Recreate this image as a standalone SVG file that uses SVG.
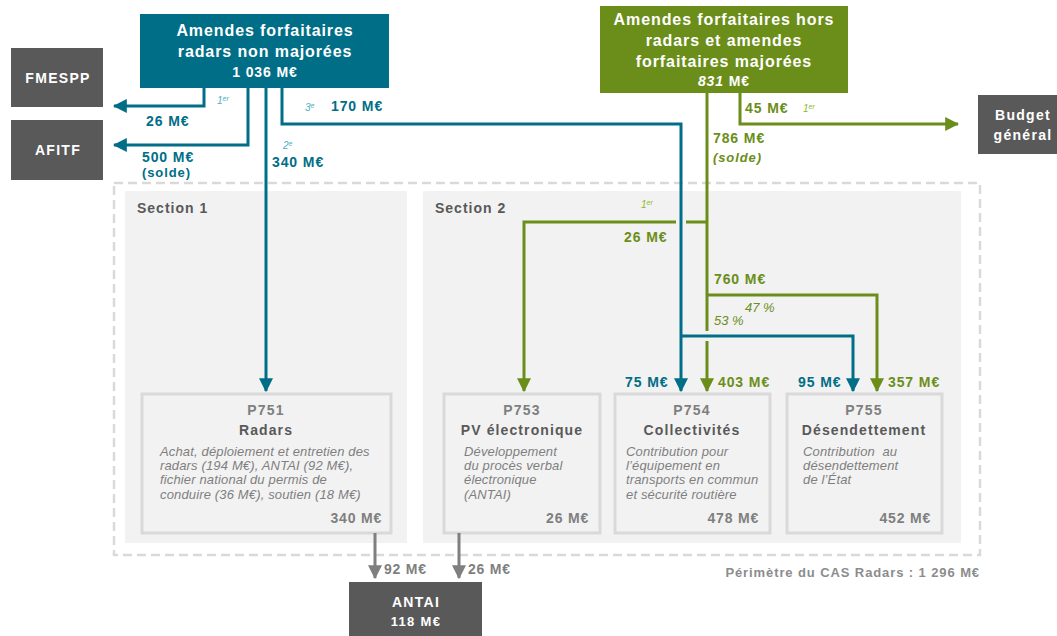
<svg xmlns="http://www.w3.org/2000/svg" width="1057" height="636" viewBox="0 0 1057 636">
<defs>
<style>
text{font-family:"Liberation Sans",Arial,sans-serif}
.hw{fill:#fff;font-weight:bold;font-size:16px;text-anchor:middle;letter-spacing:0.9px}
.gw{fill:#fff;font-weight:bold;font-size:14px;text-anchor:middle;letter-spacing:1.3px}
.lt{fill:#006e87;font-weight:bold;font-size:14px;letter-spacing:0.9px}
.lg{fill:#6b8e1a;font-weight:bold;font-size:14px;letter-spacing:0.9px}
.ot{fill:#4fb0c6;font-style:italic;font-size:10px}
.og{fill:#8dbb2c;font-style:italic;font-size:10px}
.pc{fill:#6b8e1a;font-style:italic;font-size:13px}
.sec{fill:#595959;font-weight:bold;font-size:14px;letter-spacing:1px}
.pn{fill:#7f7f7f;font-weight:bold;font-size:14px;text-anchor:middle;letter-spacing:1.2px}
.pt{fill:#595959;font-weight:bold;font-size:14px;text-anchor:middle;letter-spacing:1.1px}
.pd{fill:#7f7f7f;font-style:italic;font-size:13px;letter-spacing:0.15px}
.pa{fill:#7f7f7f;font-weight:bold;font-size:14px;text-anchor:end;letter-spacing:0.8px}
.ga{fill:#7f7f7f;font-weight:bold;font-size:14px;letter-spacing:0.8px}
.box{fill:#f2f2f2;stroke:#d9d9d9;stroke-width:3}
.panel{fill:#f2f2f2}
.ct{fill:none;stroke:#006e87;stroke-width:3}
.cg{fill:none;stroke:#6b8e1a;stroke-width:3}
.cy{fill:none;stroke:#7f7f7f;stroke-width:3}
</style>
<marker id="at" markerUnits="userSpaceOnUse" markerWidth="14" markerHeight="14" viewBox="0 0 12 12" refX="11" refY="6" orient="auto"><path d="M0,0 L12,6 L0,12 z" fill="#006e87"/></marker>
<marker id="ag" markerUnits="userSpaceOnUse" markerWidth="14" markerHeight="14" viewBox="0 0 12 12" refX="11" refY="6" orient="auto"><path d="M0,0 L12,6 L0,12 z" fill="#6b8e1a"/></marker>
<marker id="ay" markerUnits="userSpaceOnUse" markerWidth="14" markerHeight="14" viewBox="0 0 12 12" refX="11" refY="6" orient="auto"><path d="M0,0 L12,6 L0,12 z" fill="#7f7f7f"/></marker>
</defs>
<rect width="1057" height="636" fill="#fff"/>

<g id="perimeter">
<rect x="114" y="183" width="866" height="372" fill="none" stroke="#d9d9d9" stroke-width="2.5" stroke-dasharray="9,5"/>
<text x="980" y="577" style="fill:#8c8c8c;font-weight:bold;font-size:13px;text-anchor:end;letter-spacing:0.9px">Périmètre du CAS Radars : 1 296 M€</text>
</g>
<g id="section1">
<rect class="panel" x="125" y="191" width="282" height="352"/>
<text class="sec" x="137" y="213">Section 1</text>
</g>
<g id="section2">
<rect class="panel" x="423" y="191" width="538" height="352"/>
<text class="sec" x="435" y="213">Section 2</text>
</g>

<g id="src-radars">
<rect x="140" y="14" width="249" height="74" fill="#006e87"/>
<text class="hw" x="265" y="36">Amendes forfaitaires</text>
<text class="hw" x="265" y="57">radars non majorées</text>
<text class="hw" x="265" y="77" style="font-size:14px">1 036 M€</text>
</g>
<g id="src-hors">
<rect x="600" y="6" width="248" height="87" fill="#6b8e1a"/>
<text class="hw" x="724" y="25">Amendes forfaitaires hors</text>
<text class="hw" x="724" y="46">radars et amendes</text>
<text class="hw" x="724" y="67">forfaitaires majorées</text>
<text class="hw" x="724" y="86" style="font-size:14px"><tspan font-style="italic">831</tspan> M€</text>
</g>
<g id="fmespp">
<rect x="11" y="48" width="92" height="59" fill="#595959"/>
<text class="gw" x="58" y="83">FMESPP</text>
</g>
<g id="afitf">
<rect x="11" y="120" width="92" height="60" fill="#595959"/>
<text class="gw" x="58" y="155">AFITF</text>
</g>
<g id="budget">
<rect x="978" y="95" width="85" height="59" fill="#595959"/>
<text class="gw" x="1023" y="120">Budget</text>
<text class="gw" x="1023" y="140">général</text>
</g>
<g id="antai">
<rect x="349" y="582" width="133" height="60" fill="#595959"/>
<text class="gw" x="416" y="607">ANTAI</text>
<text class="gw" x="416" y="626" style="font-size:13px">118 M€</text>
</g>

<g id="p751">
<rect class="box" x="142" y="394" width="249" height="139"/>
<text class="pn" x="266" y="415">P751</text>
<text class="pt" x="266" y="435">Radars</text>
<text class="pd" x="160" y="456">Achat, déploiement et entretien des</text>
<text class="pd" x="160" y="470">radars (194 M€), ANTAI (92 M€),</text>
<text class="pd" x="160" y="484">fichier national du permis de</text>
<text class="pd" x="160" y="499">conduire (36 M€), soutien (18 M€)</text>
<text class="pa" x="382" y="523">340 M€</text>
</g>
<g id="p753">
<rect class="box" x="444" y="394" width="156" height="139"/>
<text class="pn" x="522" y="415">P753</text>
<text class="pt" x="522" y="435">PV électronique</text>
<text class="pd" x="464" y="456">Développement</text>
<text class="pd" x="464" y="470">du procès verbal</text>
<text class="pd" x="464" y="484">électronique</text>
<text class="pd" x="464" y="499">(ANTAI)</text>
<text class="pa" x="589" y="523">26 M€</text>
</g>
<g id="p754">
<rect class="box" x="615" y="394" width="155" height="139"/>
<text class="pn" x="692" y="415">P754</text>
<text class="pt" x="692" y="435">Collectivités</text>
<text class="pd" x="626" y="456">Contribution pour</text>
<text class="pd" x="626" y="470">l’équipement en</text>
<text class="pd" x="626" y="484">transports en commun</text>
<text class="pd" x="626" y="499">et sécurité routière</text>
<text class="pa" x="759" y="523">478 M€</text>
</g>
<g id="p755">
<rect class="box" x="787" y="394" width="155" height="139"/>
<text class="pn" x="864" y="415">P755</text>
<text class="pt" x="864" y="435">Désendettement</text>
<text class="pd" x="803" y="456" xml:space="preserve">Contribution  au</text>
<text class="pd" x="803" y="470">désendettement</text>
<text class="pd" x="803" y="484">de l’État</text>
<text class="pa" x="931" y="523">452 M€</text>
</g>

<g id="connectors">
<path class="ct" d="M204,88 V106 H114" marker-end="url(#at)"/>
<path class="ct" d="M248,88 V145 H114" marker-end="url(#at)"/>
<path class="ct" d="M266,88 V391" marker-end="url(#at)"/>
<path class="ct" d="M282,88 V124 H681 V391" marker-end="url(#at)"/>
<path class="ct" d="M681,336 H853 V391" marker-end="url(#at)"/>
<path class="cg" d="M707,93 V331"/>
<path class="cg" d="M707,341 V391" marker-end="url(#ag)"/>
<path class="cg" d="M707,222 H686"/>
<path class="cg" d="M676,222 H524 V391" marker-end="url(#ag)"/>
<path class="cg" d="M740,93 V124 H958" marker-end="url(#ag)"/>
<path class="cg" d="M707,295 H877 V391" marker-end="url(#ag)"/>
<path class="cy" d="M375,533 V578" marker-end="url(#ay)"/>
<path class="cy" d="M459,533 V578" marker-end="url(#ay)"/>

<text class="ot" x="217" y="104">1<tspan font-size="7" dy="-3">er</tspan></text>
<text class="lt" x="146" y="126">26 M€</text>
<text class="lt" x="142" y="162">500 M€</text>
<text class="lt" x="142" y="177" style="font-size:13px">(solde)</text>
<text class="ot" x="283" y="149">2<tspan font-size="7" dy="-3">e</tspan></text>
<text class="lt" x="272" y="167">340 M€</text>
<text class="ot" x="305" y="111">3<tspan font-size="7" dy="-3">e</tspan></text>
<text class="lt" x="331" y="111">170 M€</text>

<text class="lg" x="745" y="113">45 M€</text>
<text class="og" x="803" y="112">1<tspan font-size="7" dy="-3">er</tspan></text>
<text class="lg" x="713" y="143">786 M€</text>
<text class="lg" x="713" y="162" style="font-style:italic;font-size:13px">(solde)</text>
<text class="og" x="641" y="208">1<tspan font-size="7" dy="-3">er</tspan></text>
<text class="lg" x="624" y="242">26 M€</text>
<text class="lg" x="714" y="284">760 M€</text>
<text class="pc" x="745" y="312">47 %</text>
<text class="pc" x="714" y="325">53 %</text>
<text class="lt" x="625" y="387">75 M€</text>
<text class="lg" x="718" y="387">403 M€</text>
<text class="lt" x="798" y="387">95 M€</text>
<text class="lg" x="888" y="387">357 M€</text>
<text class="ga" x="384" y="574">92 M€</text>
<text class="ga" x="468" y="574">26 M€</text>
</g>
</svg>
